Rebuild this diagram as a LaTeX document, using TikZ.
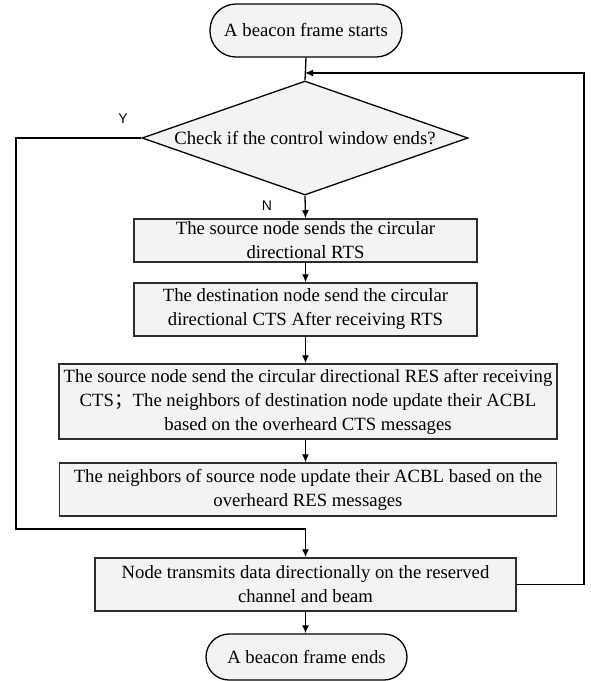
\documentclass[tikz,border=0pt]{standalone}
\usepackage{fontspec}
\setmainfont{Liberation Serif}
\newfontfamily\labelfont{Liberation Sans}
\newfontfamily\cjk{Noto Sans CJK SC}
\usetikzlibrary{shapes.geometric,arrows.meta}
\definecolor{boxfill}{RGB}{242,243,245}
\definecolor{boxline}{RGB}{45,45,45}
\begin{document}
\begin{tikzpicture}
[
 x=1pt, y=1pt,
 line width=1.3pt,
 >={Latex[length=8pt,width=7pt]},
 align=center,
 inner sep=0pt,
 font=\fontsize{18.7}{24}\selectfont,
 box/.style={draw=boxline,fill=boxfill,rectangle,line width=1.5pt},
 term/.style={draw=black,fill=boxfill,rectangle,line width=1.3pt},
 decision/.style={draw=black,fill=boxfill,diamond,aspect=2.86,minimum width=326pt,minimum height=114pt},
 yn/.style={font=\labelfont\fontsize{14}{16}\selectfont}
]
\useasboundingbox (0,0) rectangle (590,-681);
\node (start) [term,rounded corners=26pt,minimum width=192pt,minimum height=53pt] at (306,-30.5) {A beacon frame starts};
\node (check) [decision] at (305,-138) {Check if the control window ends?};
\node (rts) [box,minimum width=343pt,minimum height=43pt] at (305.5,-240.5) {The source node sends the circular\\directional RTS};
\node (cts) [box,minimum width=343pt,minimum height=53pt] at (305.5,-309.5) {The destination node send the circular\\directional CTS After receiving RTS};
\node (res) [box,minimum width=498pt,minimum height=75pt] at (308,-401.5) {The source node send the circular directional RES after receiving\\CTS{\cjk ；}The neighbors of destination node update their ACBL\\based on the overheard CTS messages};
\node (update) [box,minimum width=497pt,minimum height=53pt] at (308,-489.5) {The neighbors of source node update their ACBL based on the\\overheard RES messages};
\node (send) [box,minimum width=421pt,minimum height=53pt] at (305.5,-584.5) {Node transmits data directionally on the reserved\\channel and beam};
\node (end) [term,rounded corners=23pt,minimum width=201pt,minimum height=46pt] at (306.5,-657) {A beacon frame ends};
\node (yes) [yn] at (123,-119) {Y};
\node (no) [yn] at (267,-206) {N};
\coordinate (join) at (305,-73);
\coordinate (loopL) at (16,-529);
\coordinate (loopR) at (584,-73);
\draw (start.south) -- (check.north);
\draw[->] (check.south) -- (rts.north);
\draw[->] (rts.south) -- (cts.north);
\draw[->] (cts.south) -- (cts.south |- res.north);
\draw[->] (res.south -| cts.south) -- (cts.south |- update.north);
\draw[->] (check.west) -| (loopL) -| (send.north);
\draw[->] (send.east) -| (loopR) -- (join);
\draw[->] (send.south) -- (send.south |- end.north);
\end{tikzpicture}
\end{document}
